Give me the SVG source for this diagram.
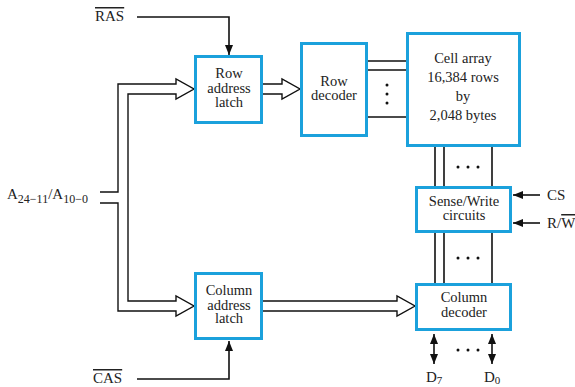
<svg xmlns="http://www.w3.org/2000/svg" width="575" height="387" viewBox="0 0 575 387">
<defs>
<marker id="ah" viewBox="0 0 10 8" refX="10" refY="4" markerWidth="10" markerHeight="8" markerUnits="userSpaceOnUse" orient="auto-start-reverse">
<path d="M0,0 L10,4 L0,8 Z" fill="#111"/>
</marker>
</defs>
<style>
.box{fill:#fff;stroke:#1ba1dc;stroke-width:3}
.t{font-family:"Liberation Serif","Times New Roman",serif;font-size:14.5px;fill:#222;text-anchor:middle}
.l{font-family:"Liberation Serif","Times New Roman",serif;font-size:15px;fill:#222}
.w{fill:none;stroke:#111;stroke-width:1.4}
.s{fill:none;stroke:#111;stroke-width:1.6}
.dot{fill:#111}
</style>
<rect width="575" height="387" fill="#fff"/>
<g id="connectors">
<path class="w" d="M100,192 H118 V84 H176 V79 L194,89 L176,99 V94 H128 V301 H176 V296 L194,306 L176,316 V311 H118 V203 H100"/>
<path class="w" d="M263,84 H282 V79 L300,89 L282,99 V94 H263"/>
<path class="w" d="M263,301 H397 V296 L415,306 L397,316 V311 H263"/>
<path class="s" d="M137,17 H229 V55" marker-end="url(#ah)"/>
<path class="s" d="M137,379 H229 V341" marker-end="url(#ah)"/>
<path class="s" d="M368,61 H406 M368,70 H406 M368,117 H406"/>
<path class="s" d="M435,147 V186 M444,147 V186 M492,147 V186"/>
<path class="s" d="M435,233 V283 M444,233 V283 M492,233 V283"/>
<path class="s" d="M540,195 H513" marker-end="url(#ah)"/>
<path class="s" d="M540,223 H513" marker-end="url(#ah)"/>
<path class="s" d="M434,334 V364" marker-start="url(#ah)" marker-end="url(#ah)"/>
<path class="s" d="M492,334 V364" marker-start="url(#ah)" marker-end="url(#ah)"/>
<g class="dot">
<circle cx="387" cy="85" r="1.5"/><circle cx="387" cy="94" r="1.5"/><circle cx="387" cy="103" r="1.5"/>
<circle cx="458" cy="167" r="1.5"/><circle cx="468" cy="167" r="1.5"/><circle cx="478" cy="167" r="1.5"/>
<circle cx="458" cy="258" r="1.5"/><circle cx="468" cy="258" r="1.5"/><circle cx="478" cy="258" r="1.5"/>
<circle cx="458" cy="350" r="1.5"/><circle cx="468" cy="350" r="1.5"/><circle cx="478" cy="350" r="1.5"/>
</g>
</g>
<g id="row-address-latch">
<rect class="box" x="195.5" y="56.5" width="66" height="66"/>
<text class="t" x="229" y="78">Row</text>
<text class="t" x="229" y="93">address</text>
<text class="t" x="229" y="107">latch</text>
</g>
<g id="row-decoder">
<rect class="box" x="301.5" y="43.5" width="65" height="92"/>
<text class="t" x="334" y="86">Row</text>
<text class="t" x="334" y="100">decoder</text>
</g>
<g id="cell-array">
<rect class="box" x="407.5" y="33.5" width="112" height="112"/>
<text class="t" x="463" y="63">Cell array</text>
<text class="t" x="463" y="82">16,384 rows</text>
<text class="t" x="463" y="101">by</text>
<text class="t" x="463" y="120">2,048 bytes</text>
</g>
<g id="sense-write">
<rect class="box" x="416.5" y="187.5" width="94" height="44"/>
<text class="t" x="464" y="206">Sense/Write</text>
<text class="t" x="464" y="220">circuits</text>
</g>
<g id="column-address-latch">
<rect class="box" x="195.5" y="273.5" width="66" height="65"/>
<text class="t" x="229" y="295">Column</text>
<text class="t" x="229" y="310">address</text>
<text class="t" x="229" y="323">latch</text>
</g>
<g id="column-decoder">
<rect class="box" x="416.5" y="284.5" width="94" height="45"/>
<text class="t" x="464" y="302">Column</text>
<text class="t" x="464" y="317">decoder</text>
</g>
<g id="labels">
<text class="l" x="95" y="21" text-decoration="overline">RAS</text>
<text class="l" x="93" y="383" text-decoration="overline">CAS</text>
<text class="l" x="7" y="199">A<tspan font-size="12" dy="4">24−11</tspan><tspan dy="-4">/A</tspan><tspan font-size="12" dy="4">10−0</tspan></text>
<text class="l" x="547" y="200">CS</text>
<text class="l" x="547" y="228">R/<tspan text-decoration="overline">W</tspan></text>
<text class="l" x="426" y="382">D<tspan font-size="11" dy="2">7</tspan></text>
<text class="l" x="484" y="382">D<tspan font-size="11" dy="2">0</tspan></text>
</g>
</svg>
